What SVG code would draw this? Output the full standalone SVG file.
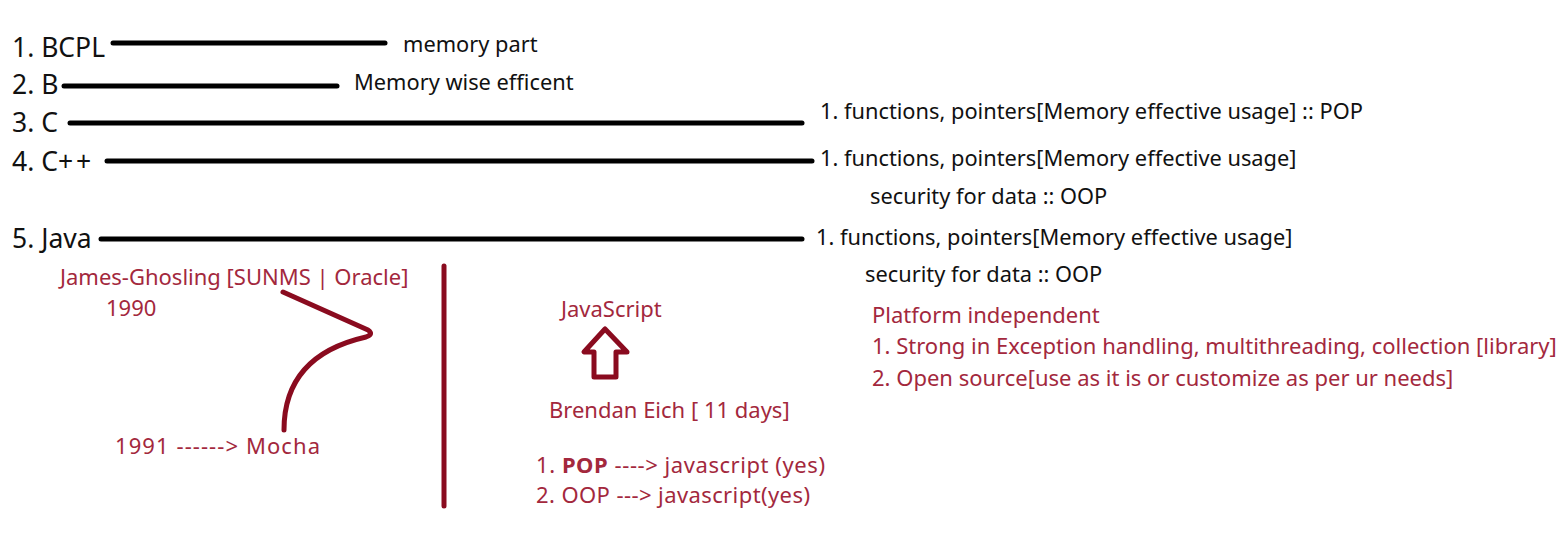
<svg xmlns="http://www.w3.org/2000/svg" width="1566" height="548" viewBox="0 0 1566 548">
<style>
.t{font-family:"Noto Sans","Open Sans","Liberation Sans",sans-serif;fill:#111}
.big{font-size:26.5px}
.sm{font-size:21.8px}
.r{font-family:"Noto Sans","Open Sans","Liberation Sans",sans-serif;fill:#a3283d;font-size:22px}
.bl{stroke:#000;stroke-width:5;stroke-linecap:round;fill:none}
.rl{stroke:#8a0b1f;stroke-width:5;stroke-linecap:round;stroke-linejoin:round;fill:none}
</style>
<rect width="1566" height="548" fill="#fff"/>
<g id="connectors">
<line class="bl" x1="113" y1="43" x2="385" y2="43"/>
<line class="bl" x1="64" y1="86" x2="337" y2="86"/>
<line class="bl" x1="70" y1="123" x2="802" y2="123"/>
<line class="bl" x1="107" y1="161" x2="812" y2="161"/>
<line class="bl" x1="101" y1="239" x2="802" y2="239"/>
<path class="rl" d="M283,292 L368,330 Q374,334 366,337 C322,347 284,372 284,430"/>
<line class="rl" x1="444" y1="266" x2="444" y2="506"/>
<path class="rl" stroke-width="4" d="M605,329 L584,352 L594,352 L594,377 L616,377 L616,352 L627,352 Z"/>
</g>
<g id="bcpl"><text class="t big" x="12" y="57">1. BCPL</text><text class="t sm" x="403" y="52">memory part</text></g>
<g id="b"><text class="t big" x="12" y="94">2. B</text><text class="t sm" x="354" y="90">Memory wise efficent</text></g>
<g id="c"><text class="t big" x="12" y="132">3. C</text><text class="t sm" x="820" y="119">1. functions, pointers[Memory effective usage] :: POP</text></g>
<g id="cpp"><text class="t big" x="12" y="171">4. C+<tspan dx="3">+</tspan></text><text class="t sm" x="820" y="166">1. functions, pointers[Memory effective usage]</text><text class="t sm" x="870" y="204">security for data :: OOP</text></g>
<g id="java"><text class="t big" x="12" y="248">5. Java</text><text class="t sm" x="816" y="245">1. functions, pointers[Memory effective usage]</text><text class="t sm" x="865" y="282">security for data :: OOP</text></g>
<g id="ghosling"><text class="r" x="60" y="285">James-Ghosling [SUNMS | Oracle]</text><text class="r" x="106" y="316">1990</text></g>
<g id="mocha"><text class="r" x="115" y="454" textLength="205" lengthAdjust="spacing">1991 ------&gt; Mocha</text></g>
<g id="javascript"><text class="r" x="561" y="317">JavaScript</text></g>
<g id="eich"><text class="r" x="549" y="418">Brendan Eich [ 11 days]</text></g>
<g id="paradigms"><text class="r" x="536" y="473" textLength="289" lengthAdjust="spacing">1. <tspan font-weight="bold">POP</tspan> ----&gt; javascript (yes)</text><text class="r" x="536" y="503" textLength="274" lengthAdjust="spacing">2. OOP ---&gt; javascript(yes)</text></g>
<g id="features"><text class="r" x="872" y="323">Platform independent</text><text class="r" x="872" y="354">1. Strong in Exception handling, multithreading, collection [library]</text><text class="r" x="872" y="386">2. Open source[use as it is or customize as per ur needs]</text></g>
</svg>
